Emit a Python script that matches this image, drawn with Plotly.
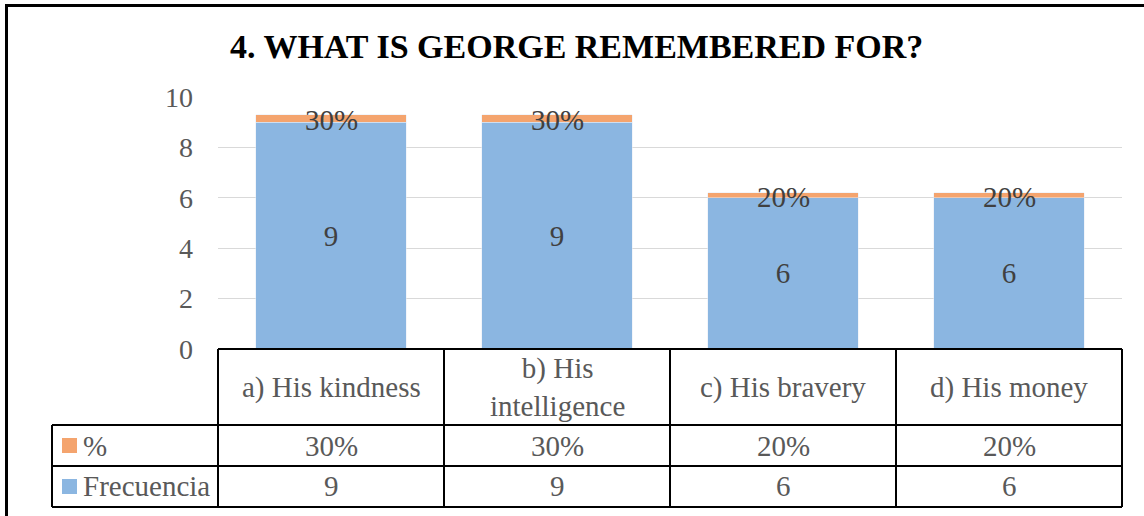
import plotly.graph_objects as go

# ---- data ----
title = "4. WHAT IS GEORGE REMEMBERED FOR?"
categories = ["a) His kindness", "b) His intelligence", "c) His bravery", "d) His money"]
category_labels = ["a) His kindness", "b) His<br>intelligence", "c) His bravery", "d) His money"]
frecuencia = [9, 9, 6, 6]
pct = [0.30, 0.30, 0.20, 0.20]
series_names = ["%", "Frecuencia"]
y_ticks = [0, 2, 4, 6, 8, 10]

BLUE = "#8BB6E1"
ORANGE = "#F4A46E"
GREY = "#595959"
DARK = "#404040"
FONT = "Liberation Serif"
FS = 29

W, H = 1144, 516
L, R, T, B = 218, 1122, 97, 349   # plot area pixel box


def px(x):
    return (x - L) / (R - L)


def py(y):
    return (B - y) / (B - T)


fig = go.Figure()
fig.add_trace(go.Bar(
    x=categories, y=frecuencia, name=series_names[1], marker_color=BLUE,
    width=0.664, text=[str(v) for v in frecuencia], textposition="inside",
    insidetextanchor="middle", textfont=dict(family=FONT, size=FS, color=DARK),
    showlegend=False))
fig.add_trace(go.Bar(
    x=categories, y=pct, name=series_names[0], marker_color=ORANGE,
    width=0.664, textposition="none", showlegend=False))

annotations = []
# data labels for % series
for c, f, p in zip(categories, frecuencia, pct):
    annotations.append(dict(x=c, y=f + p / 2, xref="x", yref="y", text=f"{round(p*100)}%",
                            showarrow=False, font=dict(family=FONT, size=FS, color=DARK),
                            xanchor="center", yshift=-2))

shapes = []
line = dict(color="black", width=2)
# data table
col_edges = [218, 444, 670, 896, 1122]
row_y = [349, 425, 466, 507]
shapes.append(dict(type="line", xref="paper", yref="paper", x0=px(218), x1=px(1122), y0=py(349), y1=py(349), line=line))
for yy in row_y[1:]:
    shapes.append(dict(type="line", xref="paper", yref="paper", x0=px(52), x1=px(1122), y0=py(yy), y1=py(yy), line=line))
for xx in col_edges:
    shapes.append(dict(type="line", xref="paper", yref="paper", x0=px(xx), x1=px(xx), y0=py(349), y1=py(507), line=line))
shapes.append(dict(type="line", xref="paper", yref="paper", x0=px(52), x1=px(52), y0=py(425), y1=py(507), line=line))

# header labels
for i, lab in enumerate(category_labels):
    cx = (col_edges[i] + col_edges[i + 1]) / 2
    annotations.append(dict(x=px(cx), y=py(387), xref="paper", yref="paper", text=lab, showarrow=False,
                            font=dict(family=FONT, size=FS, color=GREY), align="center",
                            xanchor="center", yanchor="middle"))
# rows
rows = [(series_names[0], ORANGE, [f"{round(p*100)}%" for p in pct], (425 + 466) / 2),
        (series_names[1], BLUE, [str(v) for v in frecuencia], (466 + 507) / 2)]
for name, color, vals, yc in rows:
    shapes.append(dict(type="rect", xref="paper", yref="paper", x0=px(62), x1=px(77),
                       y0=py(yc - 7.5), y1=py(yc + 7.5), fillcolor=color, line=dict(width=0)))
    annotations.append(dict(x=px(81), y=py(yc), xref="paper", yref="paper", text=name, showarrow=False,
                            xanchor="left", yanchor="middle", font=dict(family=FONT, size=FS, color=GREY)))
    for i, v in enumerate(vals):
        cx = (col_edges[i] + col_edges[i + 1]) / 2
        annotations.append(dict(x=px(cx), y=py(yc), xref="paper", yref="paper", text=v, showarrow=False,
                                xanchor="center", yanchor="middle",
                                font=dict(family=FONT, size=FS, color=GREY)))

# outer frame (left and top)
frame = dict(color="black", width=3)
shapes.append(dict(type="line", xref="paper", yref="paper", x0=px(6.5), x1=px(6.5), y0=py(5), y1=py(520), line=frame))
shapes.append(dict(type="line", xref="paper", yref="paper", x0=px(5), x1=px(1150), y0=py(5.5), y1=py(5.5), line=frame))

# title
annotations.append(dict(x=px(576), y=py(46), xref="paper", yref="paper", text=f"<b>{title}</b>", showarrow=False,
                        xanchor="center", yanchor="middle", font=dict(family=FONT, size=34, color="black")))

fig.update_layout(
    width=W, height=H, barmode="stack", bargap=0.336,
    margin=dict(l=L, r=W - R, t=T, b=H - B, pad=0),
    paper_bgcolor="white", plot_bgcolor="white",
    xaxis=dict(showticklabels=False, showgrid=False, zeroline=False, showline=False, ticks=""),
    yaxis=dict(range=[0, 10], tickvals=y_ticks, showgrid=True, gridcolor="#D9D9D9", gridwidth=1,
               zeroline=False, showline=False, ticks="", ticklabelstandoff=24,
               tickfont=dict(family=FONT, size=28, color=GREY)),
    shapes=shapes, annotations=annotations, showlegend=False,
)

fig.write_html("out.html", config={"displayModeBar": False},
               post_script="document.body.style.margin='0';document.body.style.overflow='hidden';")
